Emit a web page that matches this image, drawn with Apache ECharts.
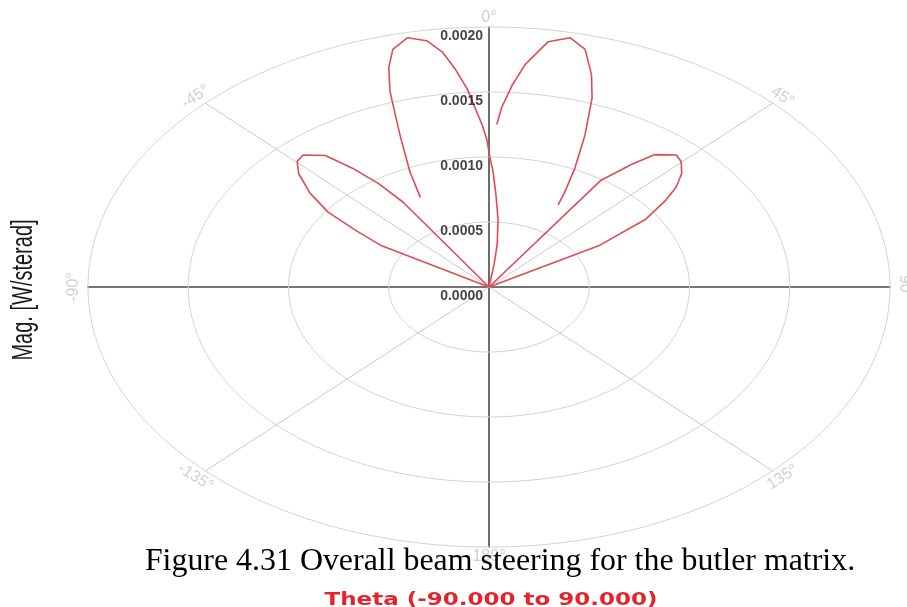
<!DOCTYPE html>
<html>
<head>
<meta charset="utf-8">
<title>Overall beam steering</title>
<script src="https://cdn.jsdelivr.net/npm/echarts@6/dist/echarts.min.js"></script>
<style>
  html, body { margin: 0; padding: 0; background: #ffffff; }
  #chart { width: 907px; height: 607px; }
</style>
</head>
<body>
<div id="chart"></div>
<script>
// Radial ticks (W/sterad) and angular ticks (degrees)
const radialTicks = [0, 0.0005, 0.0010, 0.0015, 0.0020];
const angleTicks = [0, 45, 90, 135, 180, -135, -90, -45];

// Beam patterns: [theta (deg), magnitude (W/sterad)]
const beamMinus45 = [
  [-62, 0], [-59.3, 0.00063], [-56.7, 0.00080], [-54.3, 0.00099], [-51.0, 0.00115],
  [-47.4, 0.00129], [-44.7, 0.00136], [-42.4, 0.001375], [-38.9, 0.00130],
  [-36.7, 0.00114], [-34.7, 0.00097], [-33.3, 0.00078], [-31, 0]
];
const beamMinus12 = [
  [-26.4, 0.00077], [-24.0, 0.00097], [-20.8, 0.00125], [-18.2, 0.00158],
  [-16.5, 0.00176], [-14.7, 0.00189], [-12.0, 0.00196], [-9.3, 0.00192],
  [-7.3, 0.00182], [-5.8, 0.00169], [-4.1, 0.00153], [-2.9, 0.00138],
  [-1.6, 0.00125], [-0.5, 0.00113], [0.3, 0.00099], [1.3, 0.00089],
  [2.8, 0.00071], [5.0, 0.00052], [7.1, 0.00033], [8.4, 0.00017], [10, 0]
];
const beamPlus12 = [
  [1.8, 0.00125], [2.6, 0.00138], [4.2, 0.00155], [6.0, 0.00172], [8.9, 0.00191],
  [11.9, 0.00196], [14.7, 0.00189], [17.4, 0.00171], [19.5, 0.00154],
  [22.3, 0.00126], [25.1, 0.00101], [27.4, 0.00082], [28.6, 0.00072]
];
const beamPlus45 = [
  [32, 0], [34.2, 0.00099], [37.0, 0.00118], [39.0, 0.00131], [42.6, 0.00138],
  [44.8, 0.00136], [47.7, 0.00130], [50.5, 0.00121], [53.0, 0.00110],
  [56.3, 0.00094], [59.8, 0.00064], [62, 0]
];

const yTitle = 'Mag. [W/sterad]';
const captionText = 'Figure 4.31 Overall beam steering for the butler matrix.';
const thetaText = 'Theta (-90.000 to 90.000)';

// ---- layout ----
const RMAX = radialTicks[radialTicks.length - 1];
const GRID = { left: 88, right: 17, top: 27, bottom: 60 };
const PLOT_W = 907 - GRID.left - GRID.right;
const PLOT_H = 607 - GRID.top - GRID.bottom;
const LOBE_COLOR = '#e34b53';

// polar (theta from the top, clockwise) -> plane coordinates
function toXY(thetaDeg, r) {
  const t = thetaDeg * Math.PI / 180;
  return [r * Math.sin(t), r * Math.cos(t)];
}

const measureCtx = document.createElement('canvas').getContext('2d');
function textWidth(text, font) {
  measureCtx.font = font;
  return measureCtx.measureText(text).width;
}

const series = [];

// concentric rings
radialTicks.filter(r => r > 0).forEach(r => {
  const pts = [];
  for (let a = 0; a <= 360; a += 1) pts.push(toXY(a, r));
  series.push({
    type: 'line', data: pts, showSymbol: false, silent: true, clip: false,
    lineStyle: { color: '#d3d3d3', width: 1 }, z: 1
  });
});

// diagonal spokes
angleTicks.filter(a => a % 90 !== 0).forEach(a => {
  series.push({
    type: 'line', data: [toXY(a, 0), toXY(a, RMAX)], showSymbol: false, silent: true, clip: false,
    lineStyle: { color: '#cbcbcb', width: 1 }, z: 1
  });
});

// beam patterns
[beamMinus45, beamMinus12, beamPlus12, beamPlus45].forEach(beam => {
  series.push({
    type: 'line', data: beam.map(p => toXY(p[0], p[1])), showSymbol: false, clip: false,
    lineStyle: { color: LOBE_COLOR, width: 1.6 }, z: 5
  });
});

// angular tick labels, laid along the outer ring
const angleLabels = angleTicks.map(a => {
  const t = a * Math.PI / 180;
  let phi = Math.atan2((PLOT_H / 2) * Math.sin(t), (PLOT_W / 2) * Math.cos(t)) * 180 / Math.PI;
  if (phi > 90) phi -= 180;
  if (phi < -90) phi += 180;
  return { value: toXY(a, RMAX * 1.035), name: a + '°', label: { rotate: -phi } };
});
series.push({
  type: 'scatter', data: angleLabels, symbolSize: 0, silent: true, clip: false, z: 3,
  label: {
    show: true, position: 'inside', formatter: p => p.name,
    color: '#c4c4c4', fontSize: 16, fontFamily: 'Liberation Sans'
  }
});

// radial tick labels along the 0° axis, just below each ring
series.push({
  type: 'scatter', data: radialTicks.map(r => ({ value: toXY(0, r), name: r.toFixed(4) })),
  symbolSize: 0, silent: true, clip: false, z: 6,
  label: {
    show: true, position: 'left', distance: 6, offset: [0, 9], formatter: p => p.name,
    fontFamily: 'Liberation Sans', fontWeight: 'bold', fontSize: 14, color: '#141414'
  }
});

const captionBase = '24px "Liberation Serif"';
const captionSize = 24 * 711 / textWidth(captionText, captionBase);
const captionFont = captionSize.toFixed(1) + 'px "Liberation Serif"';
const thetaFont = 'bold 18px "DejaVu Sans"';
const yTitleFont = '20px "Liberation Sans"';

const option = {
  backgroundColor: '#ffffff',
  animation: false,
  grid: { left: GRID.left, right: GRID.right, top: GRID.top, bottom: GRID.bottom },
  xAxis: {
    type: 'value', min: -RMAX, max: RMAX,
    axisLine: { onZero: true, lineStyle: { color: '#757575', width: 1.8 } },
    axisTick: { show: false }, axisLabel: { show: false }, splitLine: { show: false }
  },
  yAxis: {
    type: 'value', min: -RMAX, max: RMAX, interval: radialTicks[1] - radialTicks[0],
    axisLine: { onZero: true, lineStyle: { color: '#484848', width: 1.6 } },
    axisTick: { show: false }, splitLine: { show: false }, axisLabel: { show: false }
  },
  series: series,
  graphic: [
    {
      type: 'text', x: 24, y: 290, rotation: Math.PI / 2, scaleY: 1.45, z: 50,
      style: { text: yTitle, font: yTitleFont, fill: '#1a1a1a', align: 'center', verticalAlign: 'middle' }
    },
    {
      type: 'text', x: 500, y: 562, z: 60,
      style: { text: captionText, font: captionFont, fill: '#000000', align: 'center', verticalAlign: 'middle' }
    },
    {
      type: 'text', x: 491, y: 600, z: 60,
      scaleX: 333 / textWidth(thetaText, thetaFont),
      style: { text: thetaText, font: thetaFont, fill: '#e3242e', align: 'center', verticalAlign: 'middle' }
    }
  ]
};

const chart = echarts.init(document.getElementById('chart'), null, { renderer: 'canvas' });
chart.setOption(option);
</script>
</body>
</html>
